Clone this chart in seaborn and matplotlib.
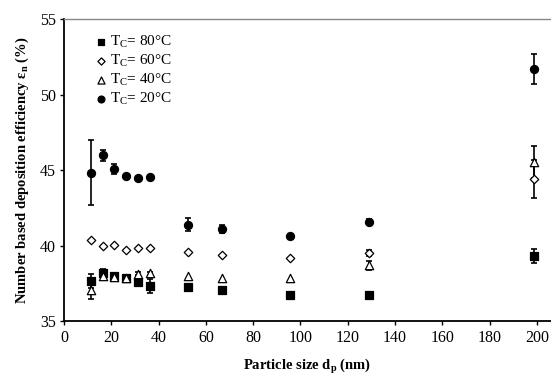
import matplotlib
matplotlib.use("Agg")
import matplotlib.pyplot as plt
import seaborn as sns
import pandas as pd
import numpy as np

# Data
particle_size = [11.5, 16.3, 21.2, 26.2, 31.4, 36.3, 52.3, 66.8, 95.5, 129.1, 199.0]

eff_80 = [37.69, 38.19, 37.99, 37.90, 37.64, 37.33, 37.26, 37.09, 36.78, 36.78, 39.31]
err_80 = [0.45, 0.25, 0.15, 0.10, 0.10, 0.45, 0.0, 0.0, 0.0, 0.15, 0.45]

eff_60 = [40.41, 40.02, 40.06, 39.73, 39.88, 39.84, 39.62, 39.40, 39.20, 39.50, 44.42]
err_60 = [0.0, 0.0, 0.0, 0.0, 0.0, 0.0, 0.0, 0.0, 0.0, 0.20, 1.25]

eff_40 = [37.11, 38.00, 37.95, 37.90, 38.15, 38.20, 38.04, 37.86, 37.88, 38.72, 45.54]
err_40 = [0.60, 0.10, 0.10, 0.10, 0.10, 0.10, 0.0, 0.0, 0.0, 0.30, 1.05]

eff_20 = [44.85, 45.98, 45.08, 44.64, 44.46, 44.55, 41.38, 41.10, 40.68, 41.60, 51.70]
err_20 = [2.15, 0.35, 0.30, 0.0, 0.0, 0.0, 0.43, 0.28, 0.0, 0.18, 1.0]

labels = ["T$_{\\rm C}$= 80°C", "T$_{\\rm C}$= 60°C", "T$_{\\rm C}$= 40°C", "T$_{\\rm C}$= 20°C"]
x_ticks = [0, 20, 40, 60, 80, 100, 120, 140, 160, 180, 200]
y_ticks = [35, 40, 45, 50, 55]

sns.set_theme(style="ticks")
plt.rcParams["font.family"] = ["Liberation Serif", "DejaVu Serif"]
plt.rcParams["mathtext.fontset"] = "custom"
plt.rcParams["mathtext.rm"] = "Liberation Serif"
plt.rcParams["mathtext.it"] = "Liberation Serif:italic"
plt.rcParams["mathtext.bf"] = "Liberation Serif:bold"
plt.rcParams["text.color"] = "black"
plt.rcParams["axes.labelcolor"] = "black"

fig = plt.figure(figsize=(5.51, 3.78), dpi=100)
ax = fig.add_axes([0.1161, 0.1495, 0.8839, 0.8003])

series = [
    (eff_80, err_80, "s", "black", 5.2),
    (eff_60, err_60, "D", "white", 4.3),
    (eff_40, err_40, "^", "white", 6.0),
    (eff_20, err_20, "o", "black", 5.8),
]

frames = []
for (vals, errs, m, fc, ms), lab in zip(series, labels):
    frames.append(pd.DataFrame({"size": particle_size, "eff": vals, "err": errs, "series": lab}))
df = pd.concat(frames, ignore_index=True)

for (vals, errs, m, fc, ms), lab in zip(series, labels):
    sub = df[(df["series"] == lab) & (df["err"] > 0)]
    ax.errorbar(sub["size"], sub["eff"], yerr=sub["err"], fmt="none",
                ecolor="black", elinewidth=1.2, capsize=2.5, capthick=1.2, zorder=2)

for (vals, errs, m, fc, ms), lab in zip(series, labels):
    sub = df[df["series"] == lab]
    sns.scatterplot(data=sub, x="size", y="eff", marker=m, s=ms ** 2,
                    color=fc, edgecolor="black", linewidth=0.9, ax=ax,
                    label=lab, zorder=3)

ax.set_xlim(0, 206)
ax.set_ylim(35, 55)
ax.set_xticks(x_ticks)
ax.set_yticks(y_ticks)
ax.tick_params(axis="both", direction="out", length=3, width=1, labelsize=11.5,
               colors="black", pad=3)
ax.spines["right"].set_visible(False)
ax.spines["top"].set_color("#888888")
ax.spines["top"].set_linewidth(1.0)
ax.spines["left"].set_linewidth(1.3)
ax.spines["bottom"].set_linewidth(1.3)
ax.spines["left"].set_color("black")
ax.spines["bottom"].set_color("black")

ax.set_xlabel("Particle size d$_{\\mathbf{p}}$ (nm)", fontsize=10.5, fontweight="bold", labelpad=8)
ax.set_ylabel("Number based deposition efficiency ε$_{\\mathbf{n}}$ (%)", fontsize=10.5,
              fontweight="bold", labelpad=6)

leg = ax.legend(loc="upper left", bbox_to_anchor=(0.045, 0.97), frameon=False,
                fontsize=11, handletextpad=0.0, labelspacing=0.18, borderaxespad=0,
                handlelength=1.2, markerscale=0.85)
for t in leg.get_texts():
    t.set_color("black")

fig.savefig("out.png", dpi=100)
